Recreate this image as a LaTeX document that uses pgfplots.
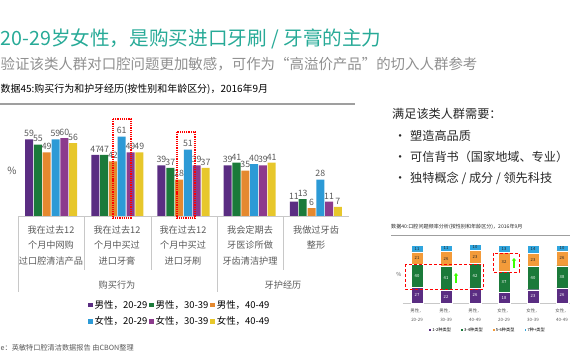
\documentclass[border=0pt]{standalone}
\usepackage{pgfplots}
\pgfplotsset{compat=1.18}
\usepackage{fontspec}
\setmainfont{Noto Sans CJK SC}
\usetikzlibrary{arrows.meta}
\definecolor{cP}{HTML}{5A2D82}
\definecolor{cG}{HTML}{1B7A3A}
\definecolor{cO}{HTML}{E5892F}
\definecolor{cB}{HTML}{2C9AD6}
\definecolor{cM}{HTML}{8C3B8D}
\definecolor{cY}{HTML}{E7C72B}
\definecolor{sO}{HTML}{F39B3A}
\definecolor{sB}{HTML}{30A5DE}
\definecolor{teal1}{HTML}{27AA97}
\definecolor{sub}{HTML}{8F8F8F}
\definecolor{lab}{HTML}{595959}
\definecolor{dk}{HTML}{262626}
\definecolor{grid1}{HTML}{C8C8C8}
\newcommand{\fs}[2][]{\fontsize{#2}{\ifx\relax#1\relax #2\else #1\fi}\selectfont}
\pgfplotsset{
  sqleg/.style={legend image code/.code={\fill[##1] (0bp,-2.2bp) rectangle (4.4bp,2.2bp);}},
  sqlegs/.style={legend image code/.code={\fill[##1] (0bp,-1.4bp) rectangle (2.8bp,1.4bp);}},
}
\begin{document}
\begin{tikzpicture}
\path[use as bounding box] (0,0) rectangle (570bp,-360bp);
% ---------- titles ----------
\node[anchor=base west, inner sep=0, text=teal1, font=\fs{19.7}] at (0.5bp,-45bp) {20-29岁女性，是购买进口牙刷 / 牙膏的主力};
\node[anchor=base west, inner sep=0, text=sub, font=\fs{14.5}] at (0.5bp,-69bp) {验证该类人群对口腔问题更加敏感，可作为“高溢价产品”的切入人群参考};
\node[anchor=base west, inner sep=0, text=black, font=\fs{10}] at (0.5bp,-92bp) {数据45:购买行为和护牙经历(按性别和年龄区分)，2016年9月};
\draw[gray!75, line width=1.5bp] (0bp,-104bp) -- (355bp,-104bp);

% ---------- main chart ----------
\begin{axis}[
  at={(18bp,-216bp)}, anchor=south west,
  width=331bp, height=104bp, scale only axis,
  xmin=-0.5, xmax=4.5, ymin=0, ymax=80,
  axis line style={draw=none}, ticks=none, clip=false,
  ybar=0.8bp, bar width=8bp,
  /pgf/number format/assume math mode=true,
  nodes near coords,
  every node near coord/.append style={font=\fs{8.8}, text=lab, inner sep=2.5bp},
  legend style={at={(0.489,-0.935)}, anchor=center, draw=none, fill=none,
    font=\fs{9.5}, legend columns=3, row sep=3bp,
    /tikz/every even column/.append style={column sep=0bp}},
]
\addplot[fill=cP, draw=none, sqleg] coordinates {(0,59) (1,47) (2,39) (3,39) (4,11)};
\addplot[fill=cG, draw=none, sqleg] coordinates {(0,55) (1,47) (2,37) (3,41) (4,13)};
\addplot[fill=cO, draw=none, sqleg] coordinates {(0,49) (1,42) (2,28) (3,35) (4,6)};
\addplot[fill=cB, draw=none, sqleg] coordinates {(0,59) (1,61) (2,51) (3,40) (4,28)};
\addplot[fill=cM, draw=none, sqleg] coordinates {(0,60) (1,49) (2,39) (3,39) (4,11)};
\addplot[fill=cY, draw=none, sqleg] coordinates {(0,56) (1,49) (2,37) (3,41) (4,7)};
\legend{男性，20-29, 男性，30-39, 男性，40-49, 女性，20-29, 女性，30-39, 女性，40-49}
\end{axis}
% table lines
\draw[grid1, line width=0.6bp] (18bp,-216bp) -- (349bp,-216bp);
\draw[grid1, line width=0.6bp] (18bp,-216bp) -- (18bp,-292bp);
\draw[grid1, line width=0.6bp] (217bp,-216bp) -- (217bp,-292bp);
\foreach \xx in {84,151,283} \draw[grid1, line width=0.6bp] (\xx bp,-216bp) -- (\xx bp,-270bp);
% category labels
\begin{scope}[every node/.style={anchor=north, align=center, inner sep=0, text=lab, font=\fs[15.5]{9.2}}]
\node at (51bp,-225.5bp) {我在过去12\\个月中网购\\过口腔清洁产品};
\node at (117bp,-225.5bp) {我在过去12\\个月中买过\\进口牙膏};
\node at (183bp,-225.5bp) {我在过去12\\个月中买过\\进口牙刷};
\node at (250bp,-225.5bp) {我会定期去\\牙医诊所做\\牙齿清洁护理};
\node at (316bp,-225.5bp) {我做过牙齿\\整形};
\end{scope}
\node[anchor=base, inner sep=0, text=lab, font=\fs{9.2}] at (117bp,-288bp) {购买行为};
\node[anchor=base, inner sep=0, text=lab, font=\fs{9.2}] at (283bp,-288bp) {牙护经历};
\node[inner sep=0, text=lab, font=\fs{10}] at (12bp,-171bp) {\%};
% highlight boxes
\draw[red, densely dotted, line width=1.2bp] (113bp,-119bp) rectangle (131bp,-218bp);
\draw[red, densely dotted, line width=1.2bp] (177bp,-132bp) rectangle (195bp,-218bp);

% ---------- right text ----------
\begin{scope}[every node/.style={anchor=base west, inner sep=0, text=dk, font=\fs{12.2}}]
\node at (392bp,-118bp) {满足该类人群需要：};
\node at (394bp,-140.5bp) {•};
\node at (410bp,-140.5bp) {塑造高品质};
\node at (394bp,-161.5bp) {•};
\node at (410bp,-161.5bp) {可信背书（国家地域、专业）};
\node at (394bp,-182.5bp) {•};
\node at (410bp,-182.5bp) {独特概念 / 成分 / 领先科技};
\end{scope}

% ---------- small chart ----------
\node[anchor=base west, inner sep=0, text=dk, font=\fs{5.1}] at (391bp,-228bp) {数据40:口腔问题频率分析(按性别和年龄区分)，2016年9月};
\draw[gray!75, line width=0.8bp] (391bp,-235bp) -- (570bp,-235bp);
\begin{axis}[
  at={(402.5bp,-303bp)}, anchor=south west,
  width=174bp, height=58bp, scale only axis,
  xmin=-0.5, xmax=5.5, ymin=0, ymax=100, clip=false,
  ybar stacked, bar width=12bp,
  axis y line=none, axis x line*=bottom,
  x axis line style={grid1, line width=0.6bp, -},
  xtick={0,1,2,3,4,5}, major tick length=0pt, ytick=\empty,
  xticklabels={{男性，\\20-29},{男性，\\30-39},{男性，\\40-49},{女性，\\20-29},{女性，\\30-39},{女性，\\40-49}},
  xticklabel style={align=center, font=\fs[9.5]{4.5}, text=lab, yshift=-2bp},
  legend style={at={(0.486,-0.466)}, anchor=center, draw=none, fill=none,
    font=\fs{4.2}, legend columns=4, nodes={inner sep=1bp},
    /tikz/every even column/.append style={column sep=8bp}},
]
\addplot[fill=cP, draw=white, line width=0.3bp, sqlegs] coordinates {(0,27) (1,22) (2,26) (3,18) (4,23) (5,26)};
\addplot[fill=cG, draw=white, line width=0.3bp, sqlegs] coordinates {(0,40) (1,41) (2,42) (3,37) (4,40) (5,38)};
\addplot[fill=sO, draw=white, line width=0.3bp, sqlegs] coordinates {(0,21) (1,26) (2,23) (3,32) (4,23) (5,26)};
\addplot[fill=sB, draw=white, line width=0.3bp, sqlegs] coordinates {(0,11) (1,11) (2,10) (3,13) (4,14) (5,10)};
\legend{1-2种类型, 3-4种类型, 5-6种类型, 7种+类型}
\end{axis}
\begin{axis}[
  at={(402.5bp,-303bp)}, anchor=south west,
  width=174bp, height=58bp, scale only axis,
  xmin=-0.5, xmax=5.5, ymin=0, ymax=100, clip=false,
  hide axis, point meta=explicit symbolic,
  nodes near coords, nodes near coords align=center,
  every node near coord/.append style={font=\fs{4.2}, inner sep=0},
]
\addplot[draw=none, mark=none, every node near coord/.append style={text=white}] coordinates {(0,13.5)[27] (1,11)[22] (2,13)[26] (3,9)[18] (4,11.5)[23] (5,13)[26]};
\addplot[draw=none, mark=none, every node near coord/.append style={text=white}] coordinates {(0,47)[40] (1,42.5)[41] (2,47)[42] (3,36.5)[37] (4,43)[40] (5,45)[38]};
\addplot[draw=none, mark=none, every node near coord/.append style={text=dk}] coordinates {(0,77.5)[21] (1,76)[26] (2,79.5)[23] (3,71)[32] (4,74.5)[23] (5,77)[26]};
\addplot[draw=none, mark=none, every node near coord/.append style={text=dk}] coordinates {(0,93.5)[11] (1,94.5)[11] (2,96)[10] (3,93.5)[13] (4,93)[14] (5,95)[10]};
\end{axis}
\node[inner sep=0, text=lab, font=\fs{5.5}] at (399bp,-274bp) {\%};
\draw[red, densely dashed, line width=0.7bp] (405bp,-264bp) rectangle (483bp,-289bp);
\draw[red, densely dashed, line width=0.7bp] (493bp,-253bp) rectangle (519bp,-272bp);
\draw[green!70!lime, line width=2.2bp, -{Triangle[length=2.5bp,width=4bp]}] (456bp,-283bp) -- (456bp,-273bp);
\draw[green!70!lime, line width=2.2bp, -{Triangle[length=2.5bp,width=4bp]}] (514bp,-268bp) -- (514bp,-258bp);

% source
\node[anchor=base west, inner sep=0, text=lab, font=\fs{7.2}] at (0.5bp,-350bp) {e：英敏特口腔清洁数据报告 由CBON整理};
\end{tikzpicture}
\end{document}
